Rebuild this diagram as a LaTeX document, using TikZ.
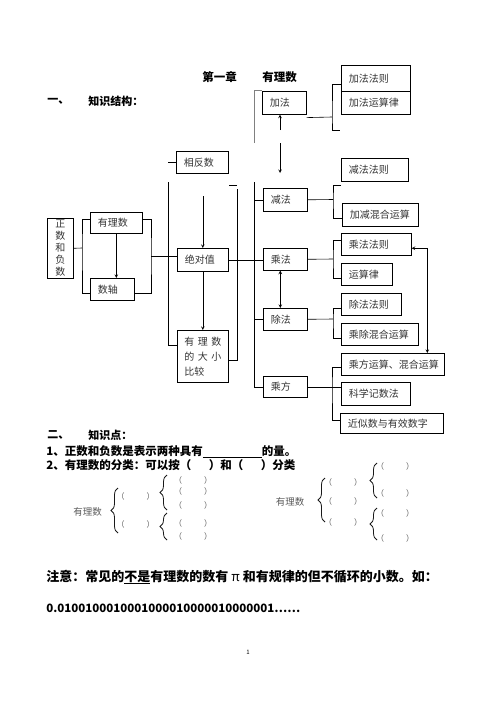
\documentclass[tikz,border=0pt]{standalone}
\usepackage{fontspec}
\setmainfont{Noto Sans CJK SC}
\usetikzlibrary{decorations.pathreplacing}
\tikzset{>=stealth}
\tikzset{
  kbox/.style={draw, anchor=north west, inner xsep=7.5pt, inner ysep=0pt, align=left,
    font=\fontsize{10}{12}\selectfont, text=black!80},
  head/.style={anchor=west, inner sep=0pt, font=\fontsize{11}{13}\selectfont\bfseries},
  kh/.style={inner sep=0pt, font=\fontsize{8}{8}\selectfont, text=black!65},
  kbrace/.style={decorate, decoration={brace, amplitude=7pt}, black!90, line width=0.8pt}
}

\begin{document}
\begin{tikzpicture}[x=1pt, y=-1pt, line width=0.6pt]
    \useasboundingbox (0,0) rectangle (500,706);
    \node[head, font=\fontsize{11.5}{13}\selectfont\bfseries] (t1) at (202,77) {第一章};
    \node[head, font=\fontsize{11.5}{13}\selectfont\bfseries] (t2) at (262,77) {有理数};
    \node[head] (h1a) at (47,101) {一、};
    \node[head] (h1b) at (88,101) {知识结构：};

    \node[kbox, text width=11pt, align=center, inner xsep=7.5pt, minimum height=60] (zfs) at (47,218) {正\\数\\和\\负\\数};
    \node[kbox, text width=37pt, minimum height=21] (yls) at (90,212) {有理数};
    \node[kbox, text width=29pt, minimum height=22] (sz) at (90,278) {数轴};
    \node[kbox, text width=37pt, minimum height=22] (xfs) at (176,151) {相反数};
    \node[kbox, text width=36pt, minimum height=23] (jdz) at (177,248) {绝对值};
    \node[kbox, text width=37pt, inner xsep=7pt, minimum height=52, font=\fontsize{10}{15}\selectfont] (dxbj) at (177,330)
        {\mbox{有\hspace{3.5pt}理\hspace{3.5pt}数}\\\mbox{的\hspace{3.5pt}大\hspace{3.5pt}小}\\比较};
    \node[kbox, text width=29pt, minimum height=23] (jia) at (262,91) {加法};
    \node[kbox, text width=29pt, minimum height=23] (jian) at (263,188) {减法};
    \node[kbox, text width=29pt, minimum height=22] (cheng) at (263,248) {乘法};
    \node[kbox, text width=29pt, minimum height=22] (chu) at (263,308) {除法};
    \node[kbox, text width=29pt, minimum height=21] (cf) at (263,376) {乘方};
    \node[kbox, text width=54pt, minimum height=26] (jfzf) at (341,65) {加法法则};
    \node[kbox, text width=54pt, minimum height=23] (jfyl) at (341,91) {加法运算律};
    \node[kbox, text width=52pt, minimum height=23] (jianfz) at (341,158) {减法法则};
    \node[kbox, text width=61pt, minimum height=23] (jjhh) at (342,203) {加减混合运算};
    \node[kbox, text width=55pt, minimum height=22] (cfzf) at (341,233) {乘法法则};
    \node[kbox, text width=36pt, minimum height=22] (ysl) at (341,263) {运算律};
    \node[kbox, text width=45pt, minimum height=22] (chufz) at (341,293) {除法法则};
    \node[kbox, text width=62pt, minimum height=22] (cchh) at (341,323) {乘除混合运算};
    \node[kbox, text width=88pt, minimum height=22] (cfys) at (341,353) {乘方运算、混合运算};
    \node[kbox, text width=54pt, minimum height=23] (kxjs) at (341,382) {科学记数法};
    \node[kbox, text width=88pt, minimum height=20] (jss) at (340,413) {近似数与有效数字};

    \coordinate (la) at (82,248);
    \coordinate (lb) at (151,256);
    \draw (zfs.east) -- (la);
    \draw ([yshift=4pt]yls.west) -| (la) |- ([yshift=-4pt]sz.west);
    \draw ([yshift=4pt]yls.east) -| (lb) |- ([yshift=-4pt]sz.east);
    \draw (lb) -- (lb -| jdz.west);
    \draw[->] (yls.south) -- (yls.south |- sz.north);

    \coordinate (ma) at (168,182);
    \coordinate (mb) at (237,189);
    \coordinate (mc) at (237,185);
    \coordinate (md) at (203,196);
    \draw (ma) |- ([yshift=11pt]dxbj.west);
    \draw (xfs.west) -- (xfs.west -| ma);
    \draw (mb) |- ([yshift=-4pt]dxbj.east);
    \draw (mc) -- (mc -| jdz.east);
    \draw[->] (jdz.north |- md) -- (jdz.north);
    \draw[->] (jdz.south) -- (dxbj.north);
    \draw (jdz.east) -- (jdz.east -| cheng.west);

    \coordinate (oa) at (254,143);
    \coordinate (ob) at (254,182);
    \coordinate (oc) at (280,130);
    \coordinate (od) at (280,143);
    \coordinate (oe) at (280,173);
    \draw[gray, line width=1pt] (oa) |- (jia.north west);
    \draw (ob) |- (cf.west);
    \draw (ob |- jian.west) -- (jian.west);
    \draw (ob |- chu.west) -- (chu.west);
    \draw[->] (oc) -- (oc |- jia.south);
    \draw[->] (od) -- (oe);
    \draw[<->] ([xshift=-5pt]cheng.south) -- ([xshift=-5pt]chu.north);

    \coordinate (pa) at (332,117);
    \coordinate (pb) at (340,130);
    \coordinate (pc) at (333,199.5);
    \coordinate (pd) at (341,185);
    \coordinate (pe) at (333,259);
    \coordinate (pf) at (333,319);
    \coordinate (pg) at (332,386.5);
    \draw ([yshift=-3pt]jia.south east) -- (pa);
    \draw ([yshift=-6pt]jfzf.west) -| (pa) |- (pb);
    \draw (jian.east) -- (pc);
    \draw (pd) -| (pc) |- ([yshift=-3.5pt]jjhh.west);
    \draw (cheng.east) -- (pe);
    \draw ([yshift=4pt]cfzf.west) -| (pe) |- ([yshift=-4pt]ysl.west);
    \draw (chu.east) -- (pf);
    \draw ([yshift=-4pt]chufz.west) -| (pf) |- ([yshift=-4pt]cchh.west);
    \draw (cf.east) -- (cf.east -| kxjs.west);
    \draw ([yshift=-3pt]cfys.west) -| (pg) |- ([yshift=3pt]jss.west);
    \draw[<->] ([yshift=-4pt]cfzf.east) -| ([xshift=34.5pt]cfys.north);

    \node[head] (h2a) at (47,435) {二、};
    \node[head] (h2b) at (88,435) {知识点：};
    \node[head, font=\fontsize{11.5}{13}\selectfont\bfseries] (l1) at (46,452)
        {1、正数和负数是表示两种具有\underline{\hspace{59pt}}的量。};
    \node[head, font=\fontsize{11.5}{13}\selectfont\bfseries] (l2) at (46,465)
        {2、有理数的分类：可以按（\hspace{17.5pt}）和（\hspace{17.5pt}）分类};

    \node[kh, font=\fontsize{9.5}{10}\selectfont] (c1) at (87.5,512) {有理数};
    \node[kh] (c11) at (135.5,496) {（\hspace{22pt}）};
    \node[kh] (c12) at (135.5,524) {（\hspace{22pt}）};
    \node[kh] (c111) at (193,480) {（\hspace{22pt}）};
    \node[kh] (c112) at (193,491) {（\hspace{22pt}）};
    \node[kh] (c113) at (193,505) {（\hspace{22pt}）};
    \node[kh] (c121) at (193,523) {（\hspace{22pt}）};
    \node[kh] (c122) at (193,536) {（\hspace{22pt}）};
    \draw[kbrace] (118,533) -- (118,488);
    \draw[kbrace] (167,510) -- (167,475);
    \draw[kbrace] (167,540) -- (167,513);

    \node[kh, font=\fontsize{9.5}{10}\selectfont] (c2) at (290,502) {有理数};
    \node[kh] (c21) at (343,482) {（\hspace{22pt}）};
    \node[kh] (c22) at (343,501) {（\hspace{22pt}）};
    \node[kh] (c23) at (343,522) {（\hspace{22pt}）};
    \node[kh] (c211) at (395,466) {（\hspace{22pt}）};
    \node[kh] (c212) at (395,493) {（\hspace{22pt}）};
    \node[kh] (c221) at (395,513) {（\hspace{22pt}）};
    \node[kh] (c222) at (395,538) {（\hspace{22pt}）};
    \draw[kbrace] (325,522) -- (325,478);
    \draw[kbrace] (377,498) -- (377,463);
    \draw[kbrace] (377,540) -- (377,508);

    \node[head, font=\fontsize{13}{15}\selectfont\bfseries] (n1) at (46,577)
        {注意：常见的\underline{不是}有理数的数有 {\mdseries π} 和有规律的但不循环的小数。如：};
    \node[head, font=\fontsize{11.5}{13}\selectfont\bfseries] (n2) at (46,608)
        {0.0100100010001000010000010000001……};
    \node[inner sep=0pt, font=\fontsize{6}{6}\selectfont] (pg1) at (248,652) {1};
\end{tikzpicture}
\end{document}
